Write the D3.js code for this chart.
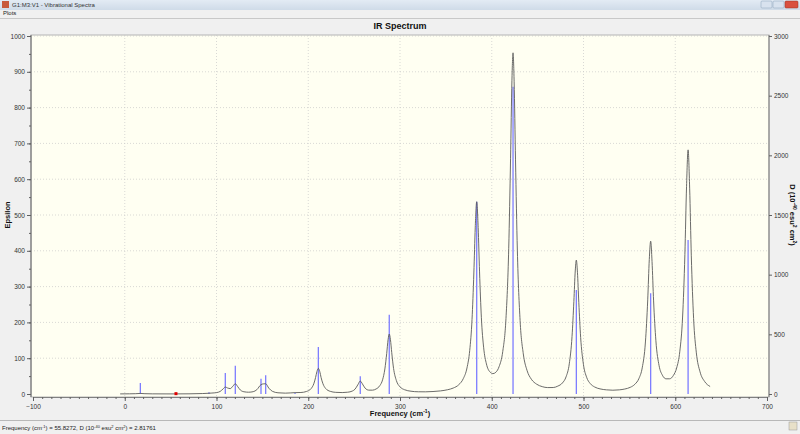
<!DOCTYPE html>
<html>
<head>
<meta charset="utf-8">
<script src="https://cdn.jsdelivr.net/npm/d3@7"></script>
<style>
  body { margin: 0; background: #f0f0f0; }
  svg { display: block; font-family: "Liberation Sans", Arial, sans-serif; }
</style>
</head>
<body>
<svg id="chart" width="800" height="434"></svg>
<script>
// stick positions (cm-1) and dipole strengths (10^-40 esu^2 cm^2)
const stickFreq = [17, 91.8, 109.6, 120.5, 148.5, 153.6, 185.6, 211, 256.7, 288.3, 383.6, 423.2, 492.2, 573.2, 614]
const stickD = [92, 15, 176, 237, 128, 157, 8, 394, 148, 665, 1611, 2575, 872, 844, 1290]

// broadened spectrum
const curveFreq = [-5, 5, 12, 17, 22, 30, 45, 56, 70, 85, 91.8, 95, 100, 104, 107, 109.6, 112, 115, 118, 120.5,
  123, 126, 130, 135, 140, 144, 148.5, 151, 153.6, 157, 161, 167, 175, 185.6, 192, 198, 203, 206, 208, 209.5,
  211, 212.5, 214, 216, 219, 224, 230, 237, 243, 248, 251, 254, 256.7, 259, 262, 266, 270, 274, 278, 281,
  283.5, 285.5, 287, 288.3, 289.6, 291, 293, 296, 300, 305, 312, 320, 328, 336, 344, 352, 358, 364, 369, 373,
  376, 378.5, 380.5, 382, 383.6, 385.2, 386.7, 388.7, 391.2, 394.2, 398, 401.4, 404.5, 408, 412, 415.5, 418.5, 420.5, 422, 423.2,
  424.4, 425.9, 427.9, 430.9, 434.4, 438.4, 443.2, 449, 455, 461, 467, 472, 477, 481, 484.5, 487.5, 489.5, 491, 492.2,
  493.4, 494.9, 496.9, 499.9, 503.4, 507.4, 512, 518, 525, 532, 539, 545, 551, 556, 560.5, 564, 567.5, 570, 571.7, 573.2,
  574.7, 576.4, 578.9, 582.4, 586, 590, 594, 598, 601.5, 605, 608, 610.5, 612.3, 614, 615.7, 617.5, 620, 623, 627, 632, 638]
const curveEps = [0.3, 0.5, 0.9, 1.6, 0.9, 0.4, 0.3, 0.3, 0.5, 1.3, 2.1, 2.7, 3.9, 7.2, 13.7, 19.5, 16.9, 15.1, 22.2, 28.7,
  21, 11.1, 6.2, 5, 6.5, 12.1, 26.2, 28.2, 28.6, 16.4, 7.4, 3.4, 2.4, 3.8, 4.2, 7, 14.8, 28.3, 46.1, 63,
  71.6, 63, 46, 28.8, 15.3, 7.4, 4.6, 4, 5, 8.2, 13.5, 25.5, 36.2, 28.4, 16.3, 10.8, 10.7, 14.1, 23.3, 39.5,
  69.9, 113, 151.5, 167.5, 151.5, 115.5, 71.2, 37.8, 20, 11.9, 7.8, 6.2, 6.1, 6.9, 8.6, 12, 16.6, 25.8, 43, 72.7,
  122, 208, 338, 464, 537, 465, 341, 213, 129, 84, 61.8, 57, 60.9, 76.4, 118.8, 211, 407, 657, 875, 953,
  872, 654, 402, 205, 112, 66.3, 41.2, 27.3, 20.6, 17.9, 18.1, 22, 30.8, 48, 84.2, 160.5, 258.7, 343.6, 374,
  340, 255, 158, 83, 46.7, 29, 19.8, 14.3, 11.6, 10.6, 11.6, 13.9, 18.7, 27.2, 43.8, 73, 145.3, 263, 375.4, 427,
  370, 260, 148.7, 79, 52.5, 42.4, 42.5, 52, 72.5, 119.6, 215, 389.4, 579, 682, 575, 386, 211, 115, 62, 35, 21]

const xTicks = [-100, 0, 100, 200, 300, 400, 500, 600, 700]
const epsTicks = [0, 100, 200, 300, 400, 500, 600, 700, 800, 900, 1000]
const dTicks = [0, 500, 1000, 1500, 2000, 2500, 3000]

const cursorFreq = 55.8272
const cursorD = 2.81761

const svg = d3.select('#chart')

// window chrome
const grad = svg.append('defs').append('linearGradient')
  .attr('id', 'tbar').attr('x1', 0).attr('x2', 0).attr('y1', 0).attr('y2', 1)
grad.append('stop').attr('offset', '0%').attr('stop-color', '#e3ebf4')
grad.append('stop').attr('offset', '100%').attr('stop-color', '#cfdbe8')
svg.append('rect').attr('width', 800).attr('height', 10).attr('fill', 'url(#tbar)')
svg.append('rect').attr('x', 2).attr('y', 1).attr('width', 7).attr('height', 7).attr('fill', '#c85a3c')
svg.append('text').attr('x', 12).attr('y', 7).attr('font-size', 6).attr('fill', '#333')
  .text('G1:M3:V1 - Vibrational Spectra')
svg.append('rect').attr('x', 761).attr('y', 1).attr('width', 11).attr('height', 7).attr('rx', 1)
  .attr('fill', '#d8e2ee').attr('stroke', '#8aa0b8').attr('stroke-width', 0.5)
svg.append('rect').attr('x', 773).attr('y', 1).attr('width', 11).attr('height', 7).attr('rx', 1)
  .attr('fill', '#d8e2ee').attr('stroke', '#8aa0b8').attr('stroke-width', 0.5)
svg.append('rect').attr('x', 785).attr('y', 1).attr('width', 13).attr('height', 7).attr('rx', 1)
  .attr('fill', '#d9503f').attr('stroke', '#9a3020').attr('stroke-width', 0.5)

svg.append('text').attr('x', 3).attr('y', 15).attr('font-size', 6).attr('fill', '#222').text('Plots')
svg.append('line').attr('x1', 0).attr('x2', 800).attr('y1', 18.5).attr('y2', 18.5).attr('stroke', '#c8c8c8')

// status bar
svg.append('line').attr('x1', 0).attr('x2', 800).attr('y1', 420.5).attr('y2', 420.5).attr('stroke', '#b8b8b8')
svg.append('text').attr('x', 2).attr('y', 430).attr('font-size', 6).attr('fill', '#222')
  .html('Frequency (cm<tspan dy="-2" font-size="4">-1</tspan><tspan dy="2">) = ' + cursorFreq +
    ', D (10</tspan><tspan dy="-2" font-size="4">-40</tspan><tspan dy="2"> esu</tspan><tspan dy="-2" font-size="4">2</tspan><tspan dy="2"> cm</tspan><tspan dy="-2" font-size="4">2</tspan><tspan dy="2">) = ' + cursorD + '</tspan>')
svg.append('rect').attr('x', 789).attr('y', 422).attr('width', 8).attr('height', 8)
  .attr('fill', '#e8e0c8').attr('stroke', '#999').attr('stroke-width', 0.5)

// scales
const x = d3.scaleLinear().domain([-100, 700]).range([33, 767])
const yL = d3.scaleLinear().domain([0, 1000]).range([394, 36])
const yR = d3.scaleLinear().domain([0, 3000]).range([394, 36])

const box = { x0: 31, x1: 769, y0: 35, y1: 397 }
const fmt = d3.format('d')

svg.append('text').attr('x', 400).attr('y', 29).attr('text-anchor', 'middle')
  .attr('font-size', 9).attr('font-weight', 'bold').attr('fill', '#111').text('IR Spectrum')

svg.append('rect').attr('x', box.x0).attr('y', box.y0)
  .attr('width', box.x1 - box.x0).attr('height', box.y1 - box.y0)
  .attr('fill', '#fffff2').attr('stroke', '#b4b4b4')

// grid
const grid = svg.append('g').attr('stroke', '#c8c8c8').attr('stroke-width', 0.7).attr('stroke-dasharray', '1,2')
grid.selectAll('.gx').data(xTicks.slice(1, -1)).enter().append('line')
  .attr('x1', (d) => x(d)).attr('x2', (d) => x(d)).attr('y1', box.y0).attr('y2', box.y1)
grid.selectAll('.gy').data(epsTicks.slice(1)).enter().append('line')
  .attr('x1', box.x0).attr('x2', box.x1).attr('y1', (d) => yL(d)).attr('y2', (d) => yL(d))

// sticks
svg.append('g').selectAll('line').data(stickFreq).enter().append('line')
  .attr('x1', (d) => x(d)).attr('x2', (d) => x(d))
  .attr('y1', yR(0)).attr('y2', (d, i) => yR(stickD[i]))
  .attr('stroke', '#7d7dff').attr('stroke-width', 1.3)

// spectrum
const line = d3.line()
  .x((d) => x(d[0]))
  .y((d) => yL(d[1]))
  .curve(d3.curveMonotoneX)
svg.append('path')
  .datum(curveFreq.map((f, i) => [f, curveEps[i]]))
  .attr('d', line)
  .attr('fill', 'none').attr('stroke', '#5a5a5a').attr('stroke-width', 0.9)

// cursor marker
svg.append('rect').attr('x', x(cursorFreq) - 1.5).attr('y', yR(cursorD) - 1.5)
  .attr('width', 3).attr('height', 3).attr('fill', '#e00000')

// axes
const styleAxis = (g) => {
  g.select('.domain').attr('stroke', '#808080')
  g.selectAll('.tick line').attr('stroke', '#606060')
  g.selectAll('.tick text').attr('font-size', 6.5).attr('fill', '#333')
}

svg.append('g').attr('transform', `translate(0,${box.y1})`)
  .call(d3.axisBottom(x).tickValues(d3.range(-100, 701, 10)).tickSize(2).tickFormat('').tickSizeOuter(0))
  .call(styleAxis)
svg.append('g').attr('transform', `translate(0,${box.y1})`)
  .call(d3.axisBottom(x).tickValues(xTicks).tickFormat(fmt).tickSize(4).tickPadding(3).tickSizeOuter(0))
  .call(styleAxis)
  .select('.domain').remove()

svg.append('g').attr('transform', `translate(${box.x0},0)`)
  .call(d3.axisLeft(yL).tickValues(d3.range(0, 1001, 50)).tickSize(2).tickFormat('').tickSizeOuter(0))
  .call(styleAxis)
  .select('.domain').attr('d', `M0,${box.y0}V${box.y1}`).attr('stroke', '#8a8a8a').attr('stroke-width', 1.5)
svg.append('g').attr('transform', `translate(${box.x0},0)`)
  .call(d3.axisLeft(yL).tickValues(epsTicks).tickFormat(fmt).tickSize(4).tickPadding(2).tickSizeOuter(0))
  .call(styleAxis)
  .select('.domain').remove()

svg.append('g').attr('transform', `translate(${box.x1},0)`)
  .call(d3.axisRight(yR).tickValues(dTicks).tickFormat(fmt).tickSize(3).tickPadding(2).tickSizeOuter(0))
  .call(styleAxis)
  .select('.domain').attr('d', `M0,${box.y0}V${box.y1}`).attr('stroke', '#8a8a8a').attr('stroke-width', 1.2)

// axis titles
svg.append('text').attr('x', 400).attr('y', 416).attr('text-anchor', 'middle')
  .attr('font-size', 7.5).attr('font-weight', 'bold').attr('fill', '#111')
  .html('Frequency (cm<tspan dy="-3" font-size="5">-1</tspan><tspan dy="3">)</tspan>')

svg.append('text').attr('transform', 'translate(10,215) rotate(-90)').attr('text-anchor', 'middle')
  .attr('font-size', 7.5).attr('font-weight', 'bold').attr('fill', '#111').text('Epsilon')

svg.append('text').attr('transform', 'translate(790,215) rotate(90)').attr('text-anchor', 'middle')
  .attr('font-size', 7.5).attr('font-weight', 'bold').attr('fill', '#111')
  .html('D (10<tspan dy="-3" font-size="5">-40</tspan><tspan dy="3"> esu</tspan><tspan dy="-3" font-size="5">2</tspan><tspan dy="3"> cm</tspan><tspan dy="-3" font-size="5">2</tspan><tspan dy="3">)</tspan>')
</script>
</body>
</html>
